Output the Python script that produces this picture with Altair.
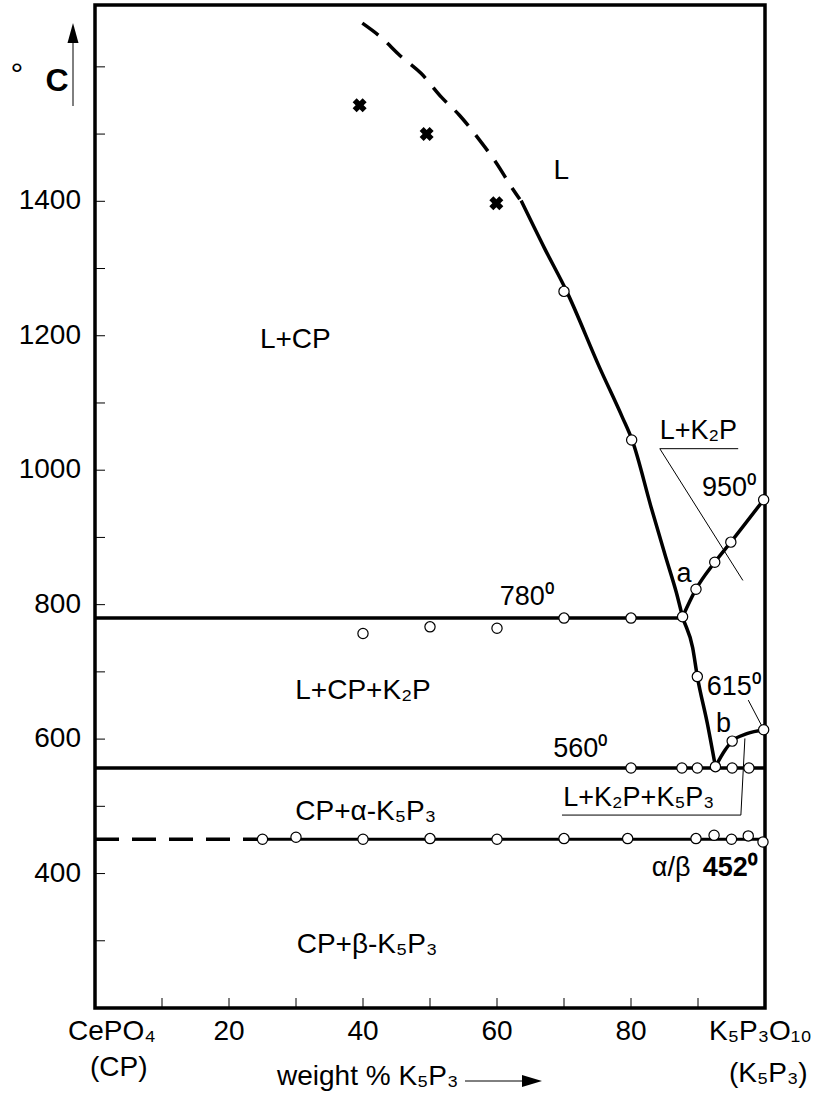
import altair as alt
import pandas as pd

FONT = "Liberation Sans"

# ---------------- data ----------------
# CP liquidus, dashed (extrapolated) part
liq_dash_w = [39.9, 42.8, 45.5, 48.7, 51.7, 54.4, 57.4, 59.9, 62.3, 63.4]
liq_dash_t = [1665, 1643, 1617, 1590, 1555, 1528, 1491, 1457, 1419, 1403]
# CP liquidus, solid part (through eutectic a down to b)
liq_w = [63.6, 67.1, 70.4, 75.3, 78.7, 80.2, 83.0, 85.2, 86.8, 87.7, 89.2, 89.9, 91.4, 92.6]
liq_t = [1401, 1330, 1266, 1153, 1079, 1044, 945, 870, 817, 782, 736, 693, 623, 559]
# K2P liquidus (a -> 950)
k2p_w = [87.7, 89.7, 92.5, 94.9, 99.8]
k2p_t = [782, 823, 863, 893, 956]
# K5P3 liquidus (b -> 615)
k5p_w = [92.6, 94.0, 95.1, 97.3, 99.9]
k5p_t = [559, 583, 597, 608, 614]
# horizontals
e780_w = [0, 87.7]
e780_t = [780, 780]
e560_w = [0, 100]
e560_t = [557, 557]
t452_w = [25, 100]
t452_t = [451, 451]
t452_dash_w = [0, 25]
t452_dash_t = [451, 451]

# experimental points (open circles)
pts_w = [70, 80.1, 87.7, 89.9, 92.6,
         89.7, 92.5, 94.9, 99.8,
         95.1, 99.8,
         40, 50, 60, 70, 80,
         80, 87.6, 89.9, 95.1, 97.6,
         25, 30, 40, 50, 60, 70, 79.5, 89.7, 92.4, 95, 97.5, 99.7]
pts_t = [1266, 1045, 782, 693, 559,
         823, 863, 893, 956,
         597, 614,
         757, 767, 765, 780, 780,
         557, 557, 557, 557, 557,
         451, 454, 451, 452, 451, 452, 452, 452, 457, 451, 456, 447]
# crosses
crs_w = [39.5, 49.5, 59.9]
crs_t = [1543, 1500, 1397]

# thin leader lines
lead_sets = {
    "k2p_under": ([84.3, 96.0], [1032, 1032]),
    "k2p_diag": ([84.3, 96.7], [1032, 836]),
    "615": ([97.5, 99.5], [658, 620]),
    "3ph_under": ([69.7, 96.4], [487, 487]),
    "3ph_up": ([96.4, 97.0], [487, 601]),
}

# labels
region_labels = ["L", "L+CP", "L+CP+K₂P", "CP+α-K₅P₃", "CP+β-K₅P₃"]
region_w = [69.6, 29.9, 40.0, 40.4, 40.6]
region_t = [1445, 1193, 672, 491, 293]

note_labels = ["L+K₂P", "950⁰", "615⁰", "780⁰", "560⁰", "L+K₂P+K₅P₃", "α/β"]
note_w = [84.3, 90.6, 91.3, 60.4, 68.4, 69.9, 83.1]
note_t = [1058, 974, 677, 811, 586, 513, 408]

bold_labels = ["452⁰"]
bold_w = [90.7]
bold_t = [408]

point_labels = ["a", "b"]
point_w = [87.9, 93.8]
point_t = [833, 610]

y_ticks = [300, 400, 500, 600, 700, 800, 900, 1000, 1100, 1200, 1300, 1400, 1500, 1600]
y_labels = [400, 600, 800, 1000, 1200, 1400]
x_ticks = [10, 20, 30, 40, 50, 60, 70, 80, 90]
x_labels = [20, 40, 60, 80]

W, H = 670, 1003

# ---------------- helpers ----------------
xs = alt.Scale(domain=[0, 100], nice=False, zero=False)
ys = alt.Scale(domain=[200, 1692], nice=False, zero=False)


def lines_df(sets):
    rows = []
    for key, (ws, ts) in sets.items():
        for i, (w, t) in enumerate(zip(ws, ts)):
            rows.append({"s": key, "i": i, "w": w, "t": t})
    return pd.DataFrame(rows)


def enc(ch, **kw):
    return ch.encode(
        x=alt.X("w:Q", scale=xs, axis=None),
        y=alt.Y("t:Q", scale=ys, axis=None),
        **kw,
    )


curves = lines_df({"liq": (liq_w, liq_t), "k2p": (k2p_w, k2p_t), "k5p": (k5p_w, k5p_t)})
curves_l = enc(alt.Chart(curves).mark_line(color="black", strokeWidth=3.5, strokeJoin="round",
                                            interpolate="monotone"),
               detail="s:N", order="i:Q")

thick = lines_df({"e780": (e780_w, e780_t), "e560": (e560_w, e560_t)})
thick_l = enc(alt.Chart(thick).mark_line(color="black", strokeWidth=3.5),
              detail="s:N", order="i:Q")

mid = lines_df({"t452": (t452_w, t452_t)})
mid_l = enc(alt.Chart(mid).mark_line(color="black", strokeWidth=3), detail="s:N", order="i:Q")

dash1 = lines_df({"liqd": (liq_dash_w, liq_dash_t)})
dash1_l = enc(alt.Chart(dash1).mark_line(color="black", strokeWidth=3.5, strokeDash=[20, 12],
                                          interpolate="monotone"),
              detail="s:N", order="i:Q")
dash2 = lines_df({"t452d": (t452_dash_w, t452_dash_t)})
dash2_l = enc(alt.Chart(dash2).mark_line(color="black", strokeWidth=3.5, strokeDash=[24, 13]),
              detail="s:N", order="i:Q")

thin = lines_df(lead_sets)
thin_l = enc(alt.Chart(thin).mark_line(color="black", strokeWidth=1), detail="s:N", order="i:Q")

pts = pd.DataFrame({"w": pts_w, "t": pts_t})
pts_l = enc(alt.Chart(pts).mark_point(shape="circle", filled=True, fill="white", stroke="black",
                                       strokeWidth=1.2, size=105, opacity=1))

crs = pd.DataFrame({"w": crs_w, "t": crs_t})
crs_l = enc(alt.Chart(crs).mark_point(shape="cross", angle=45, filled=True, color="black",
                                       size=200, opacity=1))

reg = pd.DataFrame({"w": region_w, "t": region_t, "label": region_labels})
reg_l = enc(alt.Chart(reg).mark_text(font=FONT, fontSize=28, align="center", baseline="middle",
                                      color="black"), text="label:N")

notes = pd.DataFrame({"w": note_w, "t": note_t, "label": note_labels})
notes_l = enc(alt.Chart(notes).mark_text(font=FONT, fontSize=27, align="left", baseline="middle",
                                          color="black"), text="label:N")

bolds = pd.DataFrame({"w": bold_w, "t": bold_t, "label": bold_labels})
bolds_l = enc(alt.Chart(bolds).mark_text(font=FONT, fontSize=27, fontWeight="bold", align="left",
                                          baseline="middle", color="black"), text="label:N")

pl = pd.DataFrame({"w": point_w, "t": point_t, "label": point_labels})
pl_l = enc(alt.Chart(pl).mark_text(font=FONT, fontSize=27, align="center", baseline="alphabetic",
                                    color="black"), text="label:N")

# axis labels as text marks, ticks drawn inward
ylab = pd.DataFrame({"t": y_labels, "label": [str(v) for v in y_labels]})
ylab_l = alt.Chart(ylab).mark_text(font=FONT, fontSize=28, align="right", baseline="middle",
                                   color="black").encode(
    y=alt.Y("t:Q", scale=ys, axis=None), x=alt.value(-14), text="label:N")
xlab = pd.DataFrame({"w": x_labels, "label": [str(v) for v in x_labels]})
xlab_l = alt.Chart(xlab).mark_text(font=FONT, fontSize=28, align="center", baseline="alphabetic",
                                   color="black").encode(
    x=alt.X("w:Q", scale=xs, axis=None), y=alt.value(1035), text="label:N")

yt = pd.DataFrame({"t": y_ticks})
yt_l = alt.Chart(yt).mark_rule(color="black", strokeWidth=1).encode(
    y=alt.Y("t:Q", scale=ys, axis=None), x=alt.value(0), x2=alt.value(10))
xt = pd.DataFrame({"w": x_ticks})
xt_l = alt.Chart(xt).mark_rule(color="black", strokeWidth=1).encode(
    x=alt.X("w:Q", scale=xs, axis=None), y=alt.value(H), y2=alt.value(H - 10))


def outer_text(txt, px, py, size=28, align="left", weight="normal", baseline="alphabetic"):
    return alt.Chart(pd.DataFrame({"label": [txt]})).mark_text(
        font=FONT, fontSize=size, align=align, baseline=baseline, fontWeight=weight, color="black"
    ).encode(text="label:N", x=alt.value(px), y=alt.value(py))


outer = [
    outer_text("CePO₄", -27, 1035),
    outer_text("(CP)", -5, 1071),
    outer_text("K₅P₃O₁₀", 614, 1035),
    outer_text("(K₅P₃)", 634, 1077),
    outer_text("weight % K₅P₃", 182, 1080, size=28),
    outer_text("°", -78, 80, size=32, align="center"),
    outer_text("C", -38, 86, size=32, align="center", weight="bold"),
]

arrow_src = pd.DataFrame({"k": [0]})
y_arrow_line = alt.Chart(arrow_src).mark_rule(color="black", strokeWidth=1).encode(
    x=alt.value(-22), y=alt.value(38), y2=alt.value(101))
y_arrow_head = alt.Chart(arrow_src).mark_point(
    shape="M0,-1L0.55,1L-0.55,1Z", filled=True, color="black", size=400, opacity=1
).encode(x=alt.value(-22), y=alt.value(28))
x_arrow_line = alt.Chart(arrow_src).mark_rule(color="black", strokeWidth=1).encode(
    x=alt.value(370), x2=alt.value(430), y=alt.value(1076))
x_arrow_head = alt.Chart(arrow_src).mark_point(
    shape="M1,0L-1,-0.6L-1,0.6Z", filled=True, color="black", size=400, opacity=1
).encode(x=alt.value(437), y=alt.value(1076))

chart = alt.layer(
    yt_l, xt_l, ylab_l, xlab_l, thin_l, dash1_l, dash2_l, mid_l, thick_l, curves_l, pts_l, crs_l,
    reg_l, notes_l, bolds_l, pl_l, *outer,
    y_arrow_line, y_arrow_head, x_arrow_line, x_arrow_head,
).properties(
    width=W, height=H,
    autosize=alt.AutoSizeParams(type="none"),
    padding={"left": 95, "top": 5, "right": 59, "bottom": 86},
    background="white",
).configure_view(stroke="black", strokeWidth=3.5)

chart.save("out.html", embed_options={"renderer": "svg", "actions": False})
